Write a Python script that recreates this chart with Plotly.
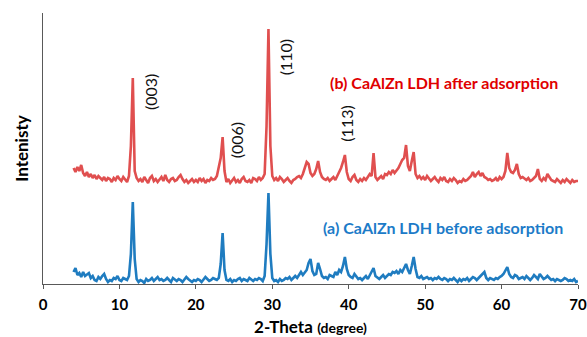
import numpy as np
import plotly.graph_objects as go

# 2-theta scan, 4-70 degrees, 0.25 degree step
two_theta = np.round(np.arange(4.0, 70.0001, 0.25), 2)

# (a) CaAlZn LDH before adsorption (arbitrary units)
before = [
    12, 16, 9, 11,   7, 12, 8, 10,   11, 6, 8, 4,   3, 7, 5, 8,
    10, 5, 2, 4,     3, 6, 5, 8,     4, 3, 6, 5,    4, 8, 30, 82,
    25, 5, 2, 4,     3, 1, 5, 3,     4, 6, 3, 5,    7, 4, 5, 3,
    4, 6, 4, 2,      6, 4, 3, 5,     4, 2, 4, 7,    5, 3, 2, 4,
    3, 5, 4, 2,      4, 7, 5, 3,     4, 6, 5, 4,    6, 20, 51, 14,
    4, 3, 5, 2,      4, 3, 5, 6,     3, 5, 4, 3,    6, 4, 3, 5,
    4, 6, 5, 3,      8, 40, 91, 30,  6, 3, 4, 2,    5, 3, 4, 6,
    5, 7, 4, 6,      8, 6, 9, 12,    9, 11, 14, 21, 25, 13, 9, 10,
    21, 15, 8, 6,    7, 5, 9, 8,     7, 12, 9, 14,  12, 18, 27, 15,
    9, 7, 6, 10,     7, 5, 6, 4,     6, 8, 5, 9,    13, 16, 8, 6,
    5, 7, 9, 6,      8, 10, 9, 12,   11, 13, 10, 14, 12, 17, 20, 14,
    10, 18, 27, 15,  7, 6, 8, 5,     6, 7, 5, 6,    4, 6, 5, 7,
    5, 4, 6, 5,      3, 5, 4, 6,     4, 2, 5, 3,    5, 4, 6, 3,
    5, 7, 6, 4,      6, 8, 9, 12,    6, 4, 6, 5,    4, 6, 5, 7,
    8, 10, 13, 17,   10, 7, 6, 9,    8, 5, 6, 7,    5, 8, 6, 4,
    6, 9, 7, 5,      10, 7, 5, 6,    8, 6, 4, 5,    3, 5, 4, 3,
    4, 6, 5, 3,      4, 3, 5, 2,     3,
]

# (b) CaAlZn LDH after adsorption (arbitrary units)
after = [
    18, 14, 19, 15,  21, 13, 10, 14,  9, 12, 8, 11,  7, 10, 8, 6,
    9, 5, 8, 7,      4, 8, 6, 10,     7, 5, 9, 6,    4, 10, 40, 108,
    15, 8, 5, 7,     4, 9, 6, 3,      8, 10, 5, 7,   4, 6, 9, 5,
    11, 6, 4, 7,     8, 5, 6, 9,      11, 7, 4, 6,   3, 5, 7, 4,
    6, 4, 8, 5,      7, 3, 6, 5,      8, 6, 7, 10,   18, 28, 49, 15,
    4, 7, 3, 5,      8, 4, 6, 3,      7, 9, 5, 4,    6, 3, 8, 7,
    5, 9, 6, 8,      12, 60, 157, 40, 10, 6, 8, 5,   9, 7, 4, 6,
    8, 5, 3, 6,      7, 9, 10, 8,     12, 18, 24, 22, 13, 10, 12, 17,
    25, 14, 9, 7,    6, 8, 5, 7,      9, 6, 10, 13,  18, 24, 31, 14,
    7, 5, 9, 11,     6, 4, 7, 5,      8, 6, 9, 12,   10, 33, 9, 6,
    8, 10, 7, 12,    11, 14, 12, 16,  13, 15, 18, 22, 26, 28, 41, 20,
    15, 25, 34, 12,  8, 10, 7, 9,     6, 10, 8, 5,   7, 9, 6, 4,
    8, 6, 9, 5,      4, 7, 5, 8,      6, 3, 5, 4,    7, 5, 6, 8,
    10, 14, 9, 12,   14, 10, 13, 9,   8, 6, 7, 5,    6, 8, 5, 9,
    7, 9, 15, 33,    18, 14, 13, 16,  22, 12, 8, 9,  7, 6, 8, 5,
    6, 8, 10, 17,    7, 5, 8, 6,      12, 9, 6, 5,   4, 7, 5, 3,
    6, 4, 7, 5,      3, 6, 4, 5,      5,
]

# vertical shift used to stack the "after" pattern above the "before" one
stack_offset = 98

# reflections labelled on the "after" pattern
hkl_labels = ["(003)", "(006)", "(110)", "(113)"]
hkl_x = [14.0, 25.3, 31.7, 39.6]
hkl_y = [192, 144, 227, 160]

series_names = ["(a) CaAlZn LDH before adsorption", "(b) CaAlZn LDH after adsorption"]
x_ticks = [0, 10, 20, 30, 40, 50, 60, 70]

blue_line = "#1F7CC0"
red_line = "#E04F4F"
blue_text = "#1C7BC8"
red_text = "#E00000"
font_family = "Lato, 'Open Sans', sans-serif"

fig = go.Figure()
fig.add_trace(go.Scatter(
    x=two_theta, y=before, mode="lines",
    line=dict(color=blue_line, width=2.6), name=series_names[0],
))
fig.add_trace(go.Scatter(
    x=two_theta, y=np.array(after) + stack_offset, mode="lines",
    line=dict(color=red_line, width=2.6), name=series_names[1],
))

for label, xv, yv in zip(hkl_labels, hkl_x, hkl_y):
    fig.add_annotation(
        x=xv, y=yv, text=label, textangle=-90, showarrow=False,
        font=dict(family=font_family, size=16, color="#111111"),
    )

fig.add_annotation(
    x=52.5, y=202, text="<b>" + series_names[1] + "</b>", showarrow=False,
    font=dict(family=font_family, size=16, color=red_text),
)
fig.add_annotation(
    x=52.4, y=57, text="<b>" + series_names[0] + "</b>", showarrow=False,
    font=dict(family=font_family, size=16, color=blue_text),
)

fig.update_layout(
    width=587, height=337,
    margin=dict(l=43, r=9, t=13, b=53, autoexpand=False),
    paper_bgcolor="white", plot_bgcolor="white",
    showlegend=False,
    font=dict(family=font_family, color="black"),
)
fig.update_xaxes(
    range=[0, 70], tickvals=x_ticks, automargin=False,
    showline=True, linecolor="#595959", linewidth=1.3,
    ticks="outside", ticklen=4, tickcolor="#595959",
    ticklabelstandoff=3,
    showgrid=False, zeroline=False,
    tickfont=dict(family=font_family, size=15, color="black", weight="bold"),
    title=dict(
        text="<b>2-Theta</b> <b><span style='font-size:14px'>(degree)</span></b>",
        font=dict(family=font_family, size=17, color="black"),
        standoff=14,
    ),
)
fig.update_yaxes(
    range=[0, 271], showticklabels=False, automargin=False,
    showline=True, linecolor="#595959", linewidth=1.3,
    showgrid=False, zeroline=False, ticks="",
    title=dict(
        text="<b>Intenisty</b>",
        font=dict(family=font_family, size=17, color="black"),
        standoff=8,
    ),
)

fig.write_html("out.html")
